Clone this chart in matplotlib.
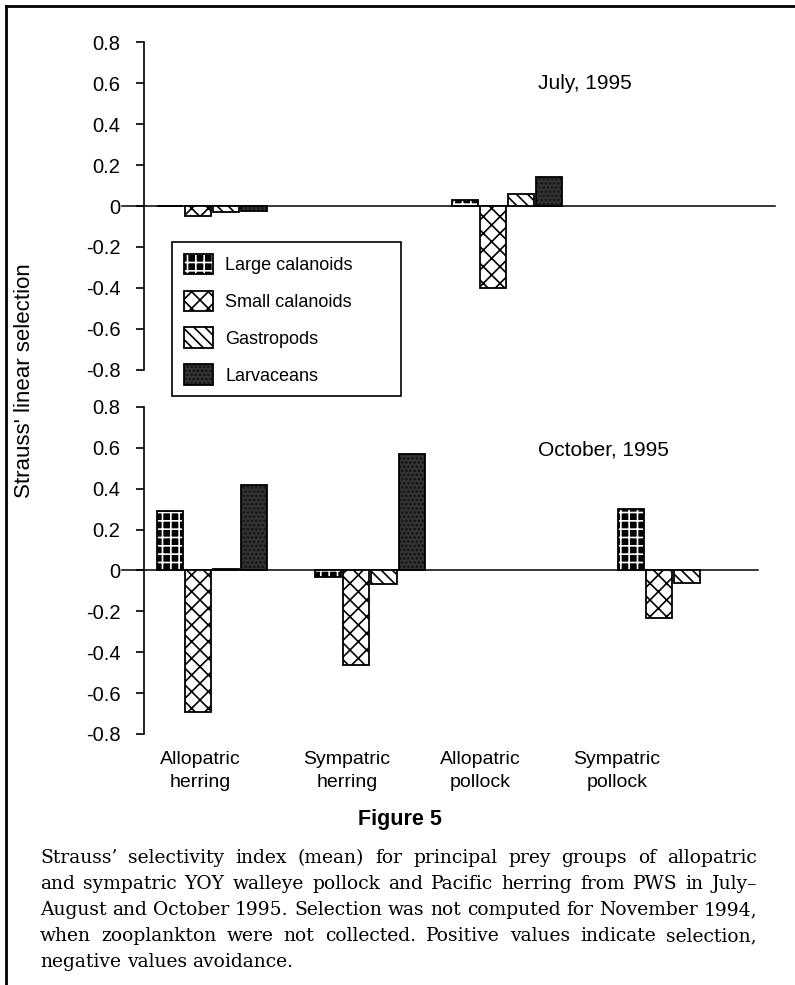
import numpy as np
import matplotlib.pyplot as plt
from matplotlib.lines import Line2D
from matplotlib.patches import Patch

plt.rcParams['font.family'] = ['Liberation Sans', 'DejaVu Sans']
plt.rcParams['hatch.linewidth'] = 1.2

nan = np.nan
groups = ["Allopatric\nherring", "Sympatric\nherring", "Allopatric\npollock", "Sympatric\npollock"]
prey = ["Large calanoids", "Small calanoids", "Gastropods", "Larvaceans"]

# Strauss' linear selection index, one value per fish group (nan = not shown)
july_large = [0.0, nan, 0.03, nan]
july_small = [-0.05, nan, -0.40, nan]
july_gastro = [-0.03, nan, 0.06, nan]
july_larv = [-0.025, nan, 0.14, nan]

oct_large = [0.29, -0.03, nan, 0.30]
oct_small = [-0.69, -0.46, nan, -0.23]
oct_gastro = [0.005, -0.065, nan, -0.06]
oct_larv = [0.42, 0.57, nan, nan]

yticks = [-0.8, -0.6, -0.4, -0.2, 0, 0.2, 0.4, 0.6, 0.8]
ytick_labels = ["-0.8", "-0.6", "-0.4", "-0.2", "0", "0.2", "0.4", "0.6", "0.8"]

caption_lines = [
    "Strauss\u2019 selectivity index (mean) for principal prey groups of allopatric",
    "and sympatric YOY walleye pollock and Pacific herring from PWS in July\u2013",
    "August and October 1995. Selection was not computed for November 1994,",
    "when zooplankton were not collected. Positive values indicate selection,",
    "negative values avoidance.",
]

# layout (pixels)
W, H = 795, 985
group_x = [212, 370, 507, 673]
label_x = [200, 347, 480, 617]
bar_w, step = 26, 28

styles = [
    dict(facecolor="black", edgecolor="white", hatch="++"),
    dict(facecolor="white", edgecolor="black", hatch="xx"),
    dict(facecolor="white", edgecolor="black", hatch="\\\\\\"),
    dict(facecolor="#333333", edgecolor="#111111", hatch="...."),
]

fig = plt.figure(figsize=(W / 100, H / 100), dpi=100)


def add_panel(top, bottom, right):
    ax = fig.add_axes([144 / W, 1 - bottom / H, (right - 144) / W, (bottom - top) / H])
    ax.set_xlim(144, right)
    ax.set_ylim(-0.8, 0.8)
    for s in ["top", "right", "bottom"]:
        ax.spines[s].set_visible(False)
    ax.spines["left"].set_linewidth(1.2)
    ax.set_yticks(yticks, ytick_labels)
    ax.tick_params(axis="y", length=6, width=1.2, pad=11, labelsize=14.5)
    ax.tick_params(axis="x", length=0)
    ax.plot([122, right], [0, 0], color="black", lw=1.1, clip_on=False, zorder=1)
    return ax


def draw_bars(ax, series):
    for k, (vals, st) in enumerate(zip(series, styles)):
        xs = [g + (k - 1.5) * step for g in group_x]
        ax.bar(xs, vals, width=bar_w, lw=0, zorder=2, **st)
        ax.bar(xs, vals, width=bar_w, fill=False, edgecolor="black", lw=1.3, zorder=3)


ax_top = add_panel(42.4, 369.6, 775)
ax_bot = add_panel(407, 734, 758)

draw_bars(ax_top, [july_large, july_small, july_gastro, july_larv])
draw_bars(ax_bot, [oct_large, oct_small, oct_gastro, oct_larv])

ax_top.set_xticks([])
ax_bot.set_xticks(label_x, groups, fontsize=14, linespacing=1.45)
ax_bot.tick_params(axis="x", pad=12)

ax_top.text(538, 0.60, "July, 1995", fontsize=15, ha="left", va="center")
ax_bot.text(538, 0.59, "October, 1995", fontsize=15, ha="left", va="center")

handles = [(Patch(lw=0, **st), Patch(fill=False, edgecolor="black", lw=1.3)) for st in styles]
leg = ax_top.legend(handles, prey, loc="upper left", mode="expand",
                    bbox_to_anchor=(172 / W, 1 - 396 / H, (401 - 172) / W, (396 - 242) / H),
                    bbox_transform=fig.transFigure, fontsize=13, fancybox=False,
                    framealpha=1, edgecolor="black", borderpad=0.65, labelspacing=0.92,
                    handlelength=1.6, handleheight=1.35, handletextpad=0.7,
                    borderaxespad=0)
leg.get_frame().set_linewidth(1.2)

fig.text(25 / W, 1 - 381 / H, "Strauss' linear selection", rotation=90,
         ha="center", va="center", fontsize=16)

# page frame
fig.add_artist(Line2D([6 / W, 6 / W], [0, 1 - 6 / H], color="black", lw=2))
fig.add_artist(Line2D([6 / W, 1], [1 - 6 / H, 1 - 6 / H], color="black", lw=2))

fig.text(400 / W, 1 - 825 / H, "Figure 5", ha="center", va="baseline",
         fontsize=15.5, fontweight="bold")

# justified caption
r = fig.canvas.get_renderer()
x0, x1 = 40, 757
cap_size = 13.5
baselines = [863, 889, 915, 941, 967]
for i, (line, yb) in enumerate(zip(caption_lines, baselines)):
    words = line.split(" ")
    ts = [fig.text(0, 1 - yb / H, w, fontsize=cap_size, family="DejaVu Serif", va="baseline")
          for w in words]
    widths = [t.get_window_extent(r).width for t in ts]
    if i == len(caption_lines) - 1:
        gap = cap_size * 100 / 72 * 0.3
    else:
        gap = (x1 - x0 - sum(widths)) / (len(words) - 1)
    x = x0
    for t, w in zip(ts, widths):
        t.set_x(x / W)
        x += w + gap

fig.savefig("out.png", dpi=100)
